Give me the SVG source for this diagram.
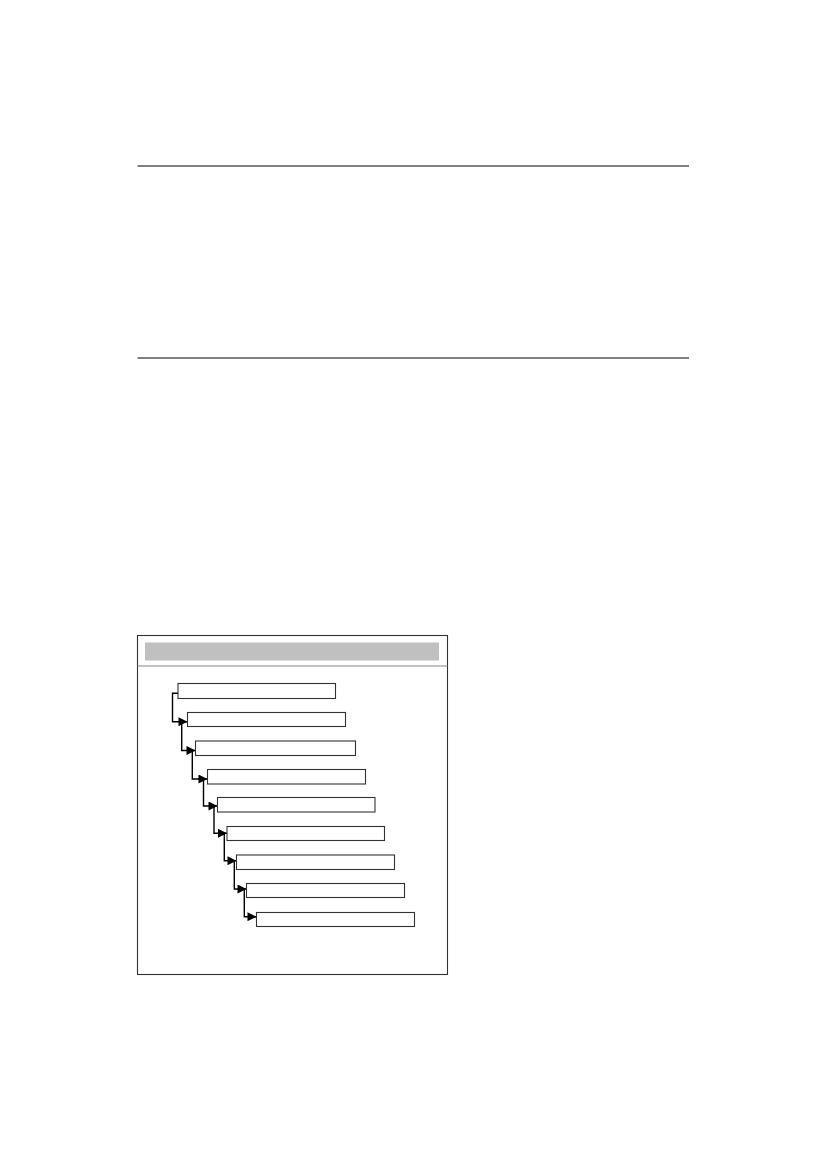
<svg xmlns="http://www.w3.org/2000/svg" width="826" height="1169" viewBox="0 0 826 1169">
<style>
.rule{stroke:#555;stroke-width:1.6;fill:none}
.box{fill:#fff;stroke:#333;stroke-width:1.1}
.conn{fill:none;stroke:#000;stroke-width:1.4}
</style>
<defs>
<marker id="arr" markerUnits="userSpaceOnUse" markerWidth="10" markerHeight="9" viewBox="0 0 10 10" refX="10" refY="5" orient="auto">
<path d="M0,0 L10,5 L0,10 z" fill="#000"/>
</marker>
</defs>
<rect width="826" height="1169" fill="#fff"/>
<g id="rules">
<line class="rule" x1="137.5" y1="166" x2="689" y2="166"/>
<line class="rule" x1="137.5" y1="358" x2="689" y2="358"/>
</g>
<g id="frame">
<rect x="137.5" y="635.5" width="310" height="339" fill="#fff" stroke="#333" stroke-width="1.1"/>
<line x1="137.5" y1="666" x2="447.5" y2="666" stroke="#888" stroke-width="1.2"/>
<rect x="145" y="642.5" width="294" height="18" fill="#c0c0c0"/>
</g>
<g id="connectors">
<path class="conn" d="M178,693.3 H172.5 V721.7 H187.5" marker-end="url(#arr)"/>
<path class="conn" d="M181.7,721.7 V750.5 H195.5" marker-end="url(#arr)"/>
<path class="conn" d="M192.3,750.5 V779 H207.5" marker-end="url(#arr)"/>
<path class="conn" d="M203.5,779 V806 H217.5" marker-end="url(#arr)"/>
<path class="conn" d="M214,806 V833.3 H227" marker-end="url(#arr)"/>
<path class="conn" d="M224.3,833.3 V860.7 H236.5" marker-end="url(#arr)"/>
<path class="conn" d="M234.3,860.7 V889 H246.5" marker-end="url(#arr)"/>
<path class="conn" d="M244.3,889 V916.7 H256.5" marker-end="url(#arr)"/>
</g>
<g id="node1"><rect class="box" x="178" y="683.5" width="157.5" height="15"/></g>
<g id="node2"><rect class="box" x="187.5" y="712.5" width="158" height="14"/></g>
<g id="node3"><rect class="box" x="195.5" y="741" width="160" height="14.5"/></g>
<g id="node4"><rect class="box" x="207.5" y="769.5" width="158" height="14.5"/></g>
<g id="node5"><rect class="box" x="217.5" y="797.5" width="157.5" height="14.5"/></g>
<g id="node6"><rect class="box" x="227" y="826.5" width="157.5" height="14"/></g>
<g id="node7"><rect class="box" x="236.5" y="855" width="158" height="14.5"/></g>
<g id="node8"><rect class="box" x="246.5" y="883.5" width="158" height="14"/></g>
<g id="node9"><rect class="box" x="256.5" y="912.5" width="158" height="14"/></g>
</svg>
